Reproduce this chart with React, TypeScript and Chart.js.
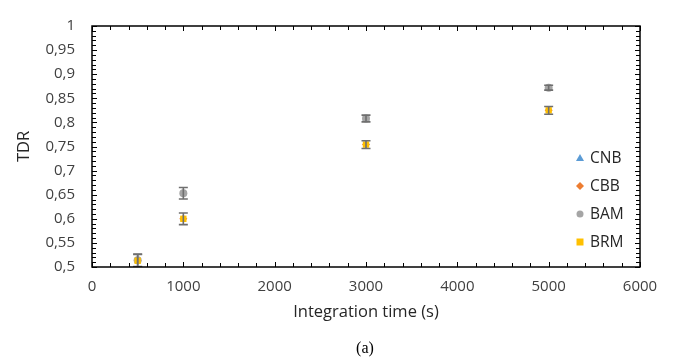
import React, { useEffect, useRef } from "react";
import { Chart, registerables } from "chart.js";

Chart.register(...registerables);

const xValues = [500, 1000, 3000, 5000];
const cnbValues = [0.514, 0.653, 0.808, 0.872];
const cbbValues = [0.513, 0.6, 0.754, 0.825];
const bamValues = [0.514, 0.653, 0.808, 0.872];
const bamErrors = [0.013, 0.012, 0.007, 0.005];
const brmValues = [0.513, 0.6, 0.754, 0.825];
const brmErrors = [0.013, 0.012, 0.008, 0.008];
const seriesNames = ["CNB", "CBB", "BAM", "BRM"];
const caption = "(a)";

const FONT = "'Open Sans', Lato, sans-serif";

const toPoints = (vals: number[]) => xValues.map((x, i) => ({ x, y: vals[i] }));

const decoPlugin = {
  id: "deco",
  afterDatasetsDraw(chart: any) {
    const { ctx, chartArea, scales } = chart;
    const xs = scales.x;
    const ys = scales.y;
    ctx.save();
    ctx.beginPath();
    ctx.rect(chartArea.left, chartArea.top, chartArea.right - chartArea.left, chartArea.bottom - chartArea.top);
    ctx.clip();
    ctx.strokeStyle = "#6f6f6f";
    ctx.lineWidth = 1.6;
    const errSets: [number[], number[]][] = [
      [bamValues, bamErrors],
      [brmValues, brmErrors],
    ];
    errSets.forEach(([vals, errs]) => {
      xValues.forEach((xv, i) => {
        const px = xs.getPixelForValue(xv);
        const top = ys.getPixelForValue(vals[i] + errs[i]);
        const bot = ys.getPixelForValue(vals[i] - errs[i]);
        ctx.beginPath();
        ctx.moveTo(px, top);
        ctx.lineTo(px, bot);
        ctx.moveTo(px - 4.5, top);
        ctx.lineTo(px + 4.5, top);
        ctx.moveTo(px - 4.5, bot);
        ctx.lineTo(px + 4.5, bot);
        ctx.stroke();
      });
    });
    ctx.restore();
  },
  afterDraw(chart: any) {
    const { ctx, chartArea, scales } = chart;
    const xs = scales.x;
    const ys = scales.y;
    const { left, right, top, bottom } = chartArea;
    ctx.save();
    ctx.strokeStyle = "#000";
    ctx.lineWidth = 1.5;
    ctx.strokeRect(left, top, right - left, bottom - top);
    ctx.lineWidth = 1;
    ctx.beginPath();
    for (let v = 0; v <= 6000; v += 200) {
      const px = Math.round(xs.getPixelForValue(v)) + 0.5;
      const len = v % 1000 === 0 ? 5 : 4;
      ctx.moveTo(px, bottom);
      ctx.lineTo(px, bottom - len);
      ctx.moveTo(px, top);
      ctx.lineTo(px, top + len);
    }
    for (let k = 50; k <= 100; k += 1) {
      const py = Math.round(ys.getPixelForValue(k / 100)) + 0.5;
      const len = k % 5 === 0 ? 5 : 4;
      ctx.moveTo(left, py);
      ctx.lineTo(left + len, py);
      ctx.moveTo(right, py);
      ctx.lineTo(right - len, py);
    }
    ctx.stroke();

    // legend
    const legendX = 580;
    const legendY0 = 158;
    const gap = 28;
    chart.data.datasets.forEach((ds: any, i: number) => {
      const cy = legendY0 + i * gap;
      ctx.fillStyle = ds.backgroundColor;
      ctx.beginPath();
      if (ds.pointStyle === "triangle") {
        ctx.moveTo(legendX, cy - 4);
        ctx.lineTo(legendX + 4, cy + 3);
        ctx.lineTo(legendX - 4, cy + 3);
        ctx.closePath();
      } else if (ds.pointStyle === "rectRot") {
        ctx.moveTo(legendX, cy - 4);
        ctx.lineTo(legendX + 4, cy);
        ctx.lineTo(legendX, cy + 4);
        ctx.lineTo(legendX - 4, cy);
        ctx.closePath();
      } else if (ds.pointStyle === "circle") {
        ctx.arc(legendX, cy, 3.5, 0, Math.PI * 2);
      } else {
        ctx.rect(legendX - 3.5, cy - 3.5, 7, 7);
      }
      ctx.fill();
      ctx.fillStyle = "#262626";
      ctx.font = "15.5px " + FONT;
      ctx.textBaseline = "middle";
      ctx.textAlign = "left";
      ctx.fillText(ds.label, legendX + 10, cy + 1);
    });

    ctx.fillStyle = "#000";
    ctx.font = "16px 'Liberation Serif', 'Times New Roman', serif";
    ctx.textAlign = "center";
    ctx.textBaseline = "middle";
    ctx.fillText(caption, (left + right) / 2 - 1, 349);
    ctx.restore();
  },
};

export default function App() {
  const ref = useRef<HTMLCanvasElement | null>(null);
  useEffect(() => {
    document.body.style.margin = "0";
    const canvas = ref.current;
    if (!canvas) return;
    const chart = new Chart(canvas, {
      type: "scatter",
      data: {
        datasets: [
          {
            label: seriesNames[0],
            data: toPoints(cnbValues),
            pointStyle: "triangle",
            backgroundColor: "#5B9BD5",
            borderColor: "#5B9BD5",
            pointRadius: 4,
            borderWidth: 0,
            order: 3,
          },
          {
            label: seriesNames[1],
            data: toPoints(cbbValues),
            pointStyle: "rectRot",
            backgroundColor: "#ED7D31",
            borderColor: "#ED7D31",
            pointRadius: 4,
            borderWidth: 0,
            order: 2,
          },
          {
            label: seriesNames[2],
            data: toPoints(bamValues),
            pointStyle: "circle",
            backgroundColor: "#A5A5A5",
            borderColor: "#A5A5A5",
            pointRadius: 4,
            borderWidth: 0,
            order: 1,
          },
          {
            label: seriesNames[3],
            data: toPoints(brmValues),
            pointStyle: "rect",
            backgroundColor: "#FFC000",
            borderColor: "#FFC000",
            pointRadius: 4.5,
            borderWidth: 0,
            order: 0,
          },
        ],
      } as any,
      options: {
        animation: false,
        responsive: false,
        maintainAspectRatio: false,
        layout: { padding: { left: 0, right: 43, top: 15, bottom: 0 } },
        plugins: { legend: { display: false }, tooltip: { enabled: false } },
        scales: {
          x: {
            type: "linear",
            min: 0,
            max: 6000,
            grid: { display: false, drawTicks: false },
            border: { display: false },
            ticks: {
              stepSize: 1000,
              padding: 11,
              color: "#404040",
              font: { family: FONT, size: 15 },
              maxRotation: 0,
              callback: (v: any) => String(v),
            },
            title: {
              display: true,
              text: "Integration time (s)",
              color: "#262626",
              font: { family: FONT, size: 16.5 },
              padding: { top: 0, bottom: 38 },
            },
            afterFit: (s: any) => {
              s.height = 93;
            },
          },
          y: {
            type: "linear",
            min: 0.5,
            max: 1,
            grid: { display: false, drawTicks: false },
            border: { display: false },
            ticks: {
              stepSize: 0.05,
              padding: 17,
              color: "#404040",
              font: { family: FONT, size: 15 },
              callback: (v: any) => String(Math.round(Number(v) * 100) / 100).replace(".", ","),
            },
            title: {
              display: true,
              text: "TDR",
              color: "#262626",
              font: { family: FONT, size: 16.5 },
              padding: { top: 14, bottom: 0 },
            },
            afterFit: (s: any) => {
              s.width = 92;
            },
          },
        },
      } as any,
      plugins: [decoPlugin],
    });
    return () => chart.destroy();
  }, []);
  return (
    <div style={{ width: 683, height: 360, background: "#fff" }}>
      <canvas ref={ref} width={683} height={360} style={{ display: "block" }} />
    </div>
  );
}
